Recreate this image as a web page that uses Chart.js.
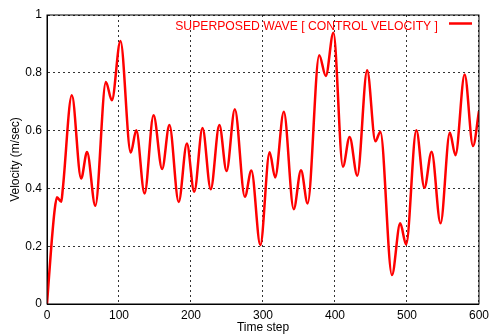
<!DOCTYPE html>
<html>
<head>
<meta charset="utf-8">
<script src="https://cdn.jsdelivr.net/npm/chart.js@4"></script>
<style>
  html, body { margin: 0; padding: 0; background: #fff; }
  #wrap { width: 493px; height: 336px; position: relative; }
</style>
</head>
<body>
<div id="wrap"><canvas id="wave-chart"></canvas></div>
<script>
// ----------------------------------------------------------------------
// Datos de la onda superpuesta (velocidad de control)
// ----------------------------------------------------------------------
const timeSteps = [
  0, 6, 10.6, 13.8, 19.8, 22, 34.5, 47.4, 55.6, 67.1, 81.8, 90.1, 102,
  116.3, 124, 135.5, 148, 159.9, 170, 182.9, 194.3, 204.5, 216, 227.4,
  239.4, 249.4, 260.9, 274.8, 283.9, 296.3, 309.2, 316.9, 328.9, 342.7,
  352.8, 362, 378.1, 387.2, 397.8, 411, 420.3, 431, 444.7, 456.1, 463,
  479.1, 490.6, 498.8, 513, 524.2, 534.2, 546.6, 559.5, 567.3, 580.1,
  591.7, 600
];
const velocity = [
  0, 0.2, 0.325, 0.369, 0.354, 0.4, 0.722, 0.434, 0.526, 0.34, 0.768, 0.705, 0.91,
  0.524, 0.601, 0.382, 0.653, 0.467, 0.619, 0.353, 0.555, 0.388, 0.609, 0.397,
  0.619, 0.46, 0.674, 0.371, 0.462, 0.204, 0.525, 0.438, 0.665, 0.328,
  0.463, 0.348, 0.861, 0.789, 0.939, 0.475, 0.578, 0.444, 0.809, 0.563, 0.596,
  0.1, 0.279, 0.206, 0.601, 0.402, 0.527, 0.279, 0.593, 0.515, 0.794,
  0.547, 0.667
];
const xTicks = [0, 100, 200, 300, 400, 500, 600];
const yTicks = [0, 0.2, 0.4, 0.6, 0.8, 1];

const seriesLabel = "SUPERPOSED WAVE [ CONTROL VELOCITY ]";
const FONT = "'Liberation Sans', Arial, Helvetica, sans-serif";

// Marco negro alrededor del área de trazado
const frame = {
  id: "frame",
  afterDatasetsDraw(chart) {
    const { ctx, chartArea: a } = chart;
    ctx.save();
    ctx.strokeStyle = "#000";
    ctx.lineWidth = 1;
    ctx.strokeRect(a.left, a.top, a.right - a.left, a.bottom - a.top);
    ctx.restore();
  },
};

// Leyenda estilo gnuplot: texto a la izquierda, muestra de línea a la derecha
const keyBox = {
  id: "keyBox",
  afterDraw(chart) {
    const { ctx } = chart;
    const ds = chart.data.datasets[0];
    ctx.save();
    ctx.font = "12.2px " + FONT;
    ctx.fillStyle = ds.borderColor;
    ctx.textAlign = "right";
    ctx.textBaseline = "middle";
    ctx.fillText(ds.label, 438, 27);
    ctx.strokeStyle = ds.borderColor;
    ctx.lineWidth = 2.5;
    ctx.beginPath();
    ctx.moveTo(449, 23.5);
    ctx.lineTo(472, 23.5);
    ctx.stroke();
    ctx.restore();
  },
};

const gridStyle = {
  color: "rgba(0,0,0,0.8)",
  lineWidth: 1,
  drawTicks: false,
};

new Chart(document.getElementById("wave-chart"), {
  type: "line",
  data: {
    datasets: [
      {
        label: seriesLabel,
        data: timeSteps.map((t, i) => ({ x: t, y: velocity[i] })),
        borderColor: "#ff0000",
        backgroundColor: "transparent",
        borderWidth: 2.5,
        pointRadius: 0,
        cubicInterpolationMode: "monotone",
      },
    ],
  },
  options: {
    responsive: true,
    maintainAspectRatio: false,
    animation: false,
    layout: { padding: { top: 15, right: 10, left: 0, bottom: 0 } },
    scales: {
      x: {
        type: "linear",
        min: 0,
        max: 600,
        afterBuildTicks: (s) => { s.ticks = xTicks.map((v) => ({ value: v })); },
        afterFit: (s) => { s.height = 32; },
        grid: gridStyle,
        border: { display: true, color: "#000", dash: [2, 3] },
        ticks: {
          color: "#000", padding: 4, maxRotation: 0,
          font: { family: FONT, size: 12 },
          callback: (v) => String(v),
        },
        title: { display: true, text: "Time step", color: "#000", font: { family: FONT, size: 12 }, padding: { top: 0, bottom: 1 } },
      },
      y: {
        type: "linear",
        min: 0,
        max: 1,
        afterBuildTicks: (s) => { s.ticks = yTicks.map((v) => ({ value: v })); },
        afterFit: (s) => { s.width = 47; },
        grid: gridStyle,
        border: { display: true, color: "#000", dash: [2, 3] },
        ticks: {
          color: "#000", padding: 5,
          font: { family: FONT, size: 12 },
          callback: (v) => String(v),
        },
        title: { display: true, text: "Velocity (m/sec)", color: "#000", font: { family: FONT, size: 12 }, padding: { top: 8, bottom: 0 } },
      },
    },
    plugins: {
      legend: { display: false },
      tooltip: { enabled: false },
    },
  },
  plugins: [frame, keyBox],
});
</script>
</body>
</html>
